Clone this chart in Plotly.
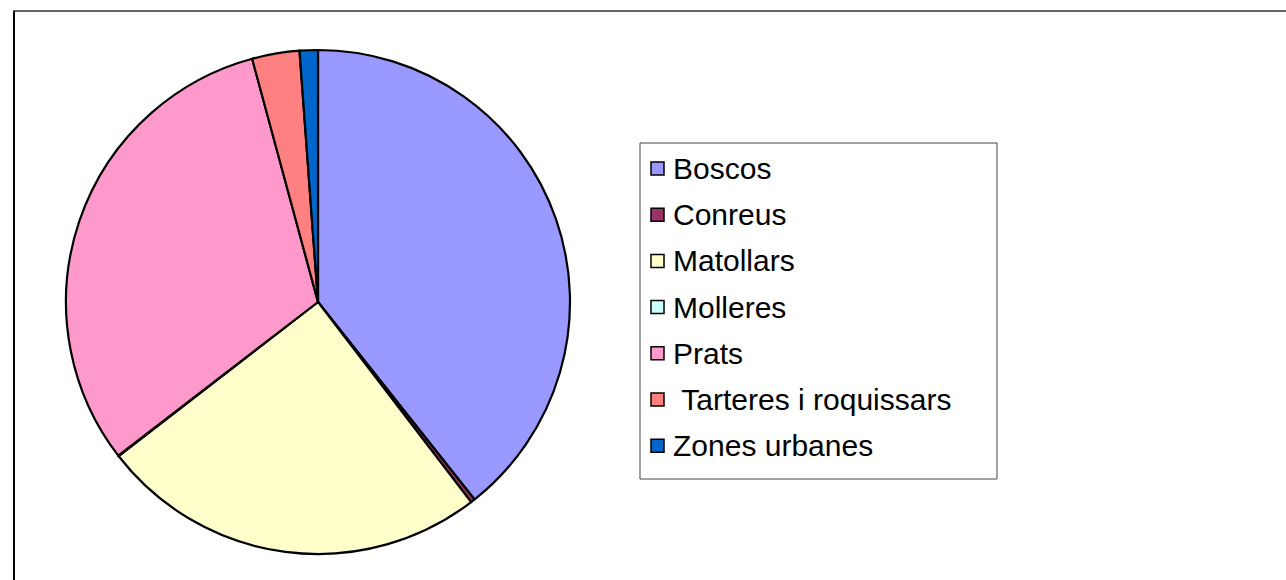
import plotly.graph_objects as go

# Land-cover shares (%)
categories = ["Boscos", "Conreus", "Matollars", "Molleres", "Prats",
              "Tarteres i roquissars", "Zones urbanes"]
shares = [39.35, 0.27, 24.94, 0.03, 31.24, 3.04, 1.17]
colors = ["#9999FF", "#993366", "#FFFFCC", "#CCFFFF", "#FF99CC",
          "#FF8080", "#0066CC"]

W, H = 1286, 580

# pie placement in pixels
cx, cy, r = 318, 302, 252


def px_x(x):
    return x / W


def px_y(y):
    return 1 - y / H


fig = go.Figure()
fig.add_trace(go.Pie(
    labels=categories,
    values=shares,
    sort=False,
    direction="clockwise",
    rotation=0,
    textinfo="none",
    hoverinfo="label+percent",
    marker=dict(colors=colors, line=dict(color="black", width=2.2)),
    domain=dict(x=[px_x(cx - r), px_x(cx + r)], y=[px_y(cy + r), px_y(cy - r)]),
    showlegend=False,
))

shapes = []
annotations = []

# outer chart-area frame (left and top edges)
shapes.append(dict(type="line", xref="paper", yref="paper",
                   x0=px_x(14), x1=px_x(14), y0=px_y(11), y1=px_y(H + 5),
                   line=dict(color="black", width=2)))
shapes.append(dict(type="line", xref="paper", yref="paper",
                   x0=px_x(13), x1=px_x(W + 5), y0=px_y(11), y1=px_y(11),
                   line=dict(color="#333333", width=1.5)))

# legend box
lx0, ly0, lx1, ly1 = 640, 143, 997, 479
shapes.append(dict(type="rect", xref="paper", yref="paper",
                   x0=px_x(lx0), x1=px_x(lx1), y0=px_y(ly1), y1=px_y(ly0),
                   line=dict(color="#444444", width=1), fillcolor="white"))

row0, row_gap = 168.5, 46.2
for i, (name, col) in enumerate(zip(categories, colors)):
    yc = row0 + i * row_gap
    shapes.append(dict(type="rect", xref="paper", yref="paper",
                       x0=px_x(651), x1=px_x(664), y0=px_y(yc + 6.5), y1=px_y(yc - 6.5),
                       line=dict(color="black", width=1.5), fillcolor=col))
    label = name if not name.startswith("Tarteres") else "\u00a0" + name
    annotations.append(dict(xref="paper", yref="paper", x=px_x(671), y=px_y(yc),
                            text=label, showarrow=False, xanchor="left",
                            yanchor="middle",
                            font=dict(family="Liberation Sans, Arial", size=30,
                                      color="black")))

fig.update_layout(
    width=W, height=H,
    margin=dict(l=0, r=0, t=0, b=0),
    paper_bgcolor="white",
    plot_bgcolor="white",
    shapes=shapes,
    annotations=annotations,
)

fig.write_html("out.html")
